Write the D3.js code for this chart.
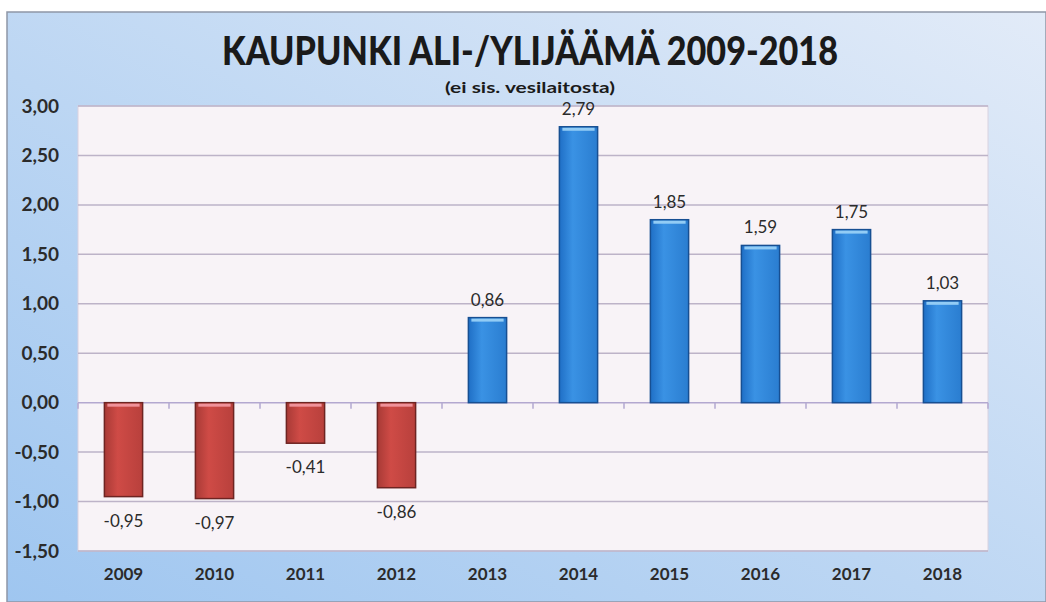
<!DOCTYPE html>
<html>
<head>
<meta charset="utf-8">
<script src="https://cdn.jsdelivr.net/npm/d3@7"></script>
<style>
  body { margin: 0; background: #ffffff; }
  text { font-family: Lato, "Open Sans", sans-serif; }
</style>
</head>
<body>
<svg id="chart" width="1046" height="602"></svg>
<script>
var years = ["2009", "2010", "2011", "2012", "2013", "2014", "2015", "2016", "2017", "2018"];
var values = [-0.95, -0.97, -0.41, -0.86, 0.86, 2.79, 1.85, 1.59, 1.75, 1.03];
var yTicks = [3.0, 2.5, 2.0, 1.5, 1.0, 0.5, 0.0, -0.5, -1.0, -1.5];

var W = 1046, H = 602;
var plot = {left: 78, right: 988, top: 106, bottom: 551};

var fi = d3.formatLocale({decimal: ",", thousands: " ", grouping: [3], currency: ["", "€"], minus: "-"});
var fmt = fi.format(".2f");

var svg = d3.select("#chart");
var defs = svg.append("defs");

// outer background gradient: saturated blue bottom-left, pale top-right
var bg = defs.append("linearGradient").attr("id", "bg")
    .attr("x1", "0").attr("y1", "1").attr("x2", "1").attr("y2", "0");
bg.append("stop").attr("offset", "0").attr("stop-color", "#9fc6f0");
bg.append("stop").attr("offset", "0.45").attr("stop-color", "#bcd6f3");
bg.append("stop").attr("offset", "1").attr("stop-color", "#e2ebf8");

var redG = defs.append("linearGradient").attr("id", "redG").attr("x1", 0).attr("x2", 1);
redG.append("stop").attr("offset", 0).attr("stop-color", "#a83a36");
redG.append("stop").attr("offset", 0.35).attr("stop-color", "#cf4b46");
redG.append("stop").attr("offset", 1).attr("stop-color", "#b8403c");

var blueG = defs.append("linearGradient").attr("id", "blueG").attr("x1", 0).attr("x2", 1);
blueG.append("stop").attr("offset", 0).attr("stop-color", "#1f6fc6");
blueG.append("stop").attr("offset", 0.35).attr("stop-color", "#3a92e4");
blueG.append("stop").attr("offset", 1).attr("stop-color", "#2a7dd0");

svg.append("rect").attr("x", 0).attr("y", 0).attr("width", W).attr("height", H).attr("fill", "#ffffff");
svg.append("rect").attr("x", 7).attr("y", 12).attr("width", W - 7).attr("height", H - 12)
    .attr("fill", "url(#bg)").attr("stroke", "#8f96a6").attr("stroke-width", 1.5);

var x = d3.scaleBand().domain(years).range([plot.left, plot.right]).paddingInner(0.58).paddingOuter(0.29);
var y = d3.scaleLinear().domain([-1.5, 3.0]).range([plot.bottom, plot.top]);

// plot area
svg.append("rect").attr("x", plot.left).attr("y", plot.top)
    .attr("width", plot.right - plot.left).attr("height", plot.bottom - plot.top)
    .attr("fill", "#f8f3f7").attr("stroke", "#d9d2e0").attr("stroke-width", 1);

// gridlines
svg.append("g").selectAll("line").data(yTicks).enter().append("line")
    .attr("x1", plot.left).attr("x2", plot.right)
    .attr("y1", function(d) { return y(d); }).attr("y2", function(d) { return y(d); })
    .attr("stroke", function(d) { return d === 0 ? "#b3a8d0" : "#bdb3c8"; })
    .attr("stroke-width", 1.5);

// y axis labels
var yAxis = d3.axisLeft(y).tickValues(yTicks).tickFormat(fmt).tickSize(0).tickPadding(19);
var ya = svg.append("g").attr("transform", "translate(" + plot.left + ",0)").call(yAxis);
ya.select(".domain").remove();
ya.selectAll("text").attr("font-size", 19).attr("font-weight", "bold").attr("fill", "#2b2b2b")
    .attr("font-family", "Lato, 'Open Sans', sans-serif");

// category ticks on zero line
var bounds = years.map(function(d) { return x(d) - x.step() * x.paddingInner() / 2; });
bounds.push(plot.right);
svg.append("g").selectAll("line").data(bounds).enter().append("line")
    .attr("x1", function(d) { return d; }).attr("x2", function(d) { return d; })
    .attr("y1", y(0)).attr("y2", y(0) + 6)
    .attr("stroke", "#b3a8d0").attr("stroke-width", 1.5);

// bars
var bars = svg.append("g").selectAll("g").data(values).enter().append("g");
bars.append("rect")
    .attr("x", function(d, i) { return x(years[i]); })
    .attr("y", function(d) { return y(Math.max(0, d)); })
    .attr("width", x.bandwidth())
    .attr("height", function(d) { return Math.abs(y(d) - y(0)); })
    .attr("fill", function(d) { return d < 0 ? "url(#redG)" : "url(#blueG)"; })
    .attr("stroke", function(d) { return d < 0 ? "#6e2422" : "#174f92"; })
    .attr("stroke-width", 1.5);
bars.append("rect")
    .attr("x", function(d, i) { return x(years[i]) + 3; })
    .attr("y", function(d) { return y(Math.max(0, d)) + 1; })
    .attr("width", x.bandwidth() - 6)
    .attr("height", 3)
    .attr("fill", function(d) { return d < 0 ? "#f0929a" : "#92ccf5"; });

// value labels
svg.append("g").selectAll("text").data(values).enter().append("text")
    .attr("x", function(d, i) { return x(years[i]) + x.bandwidth() / 2; })
    .attr("y", function(d) { return d < 0 ? y(d) + 30 : y(d) - 12; })
    .attr("text-anchor", "middle")
    .attr("font-size", 17).attr("fill", "#2b2b2b")
    .text(function(d) { return fmt(d); });

// x labels
var xAxis = d3.axisBottom(x).tickSize(0).tickPadding(0);
var xa = svg.append("g").attr("transform", "translate(0," + (plot.bottom + 29) + ")").call(xAxis);
xa.select(".domain").remove();
xa.selectAll("text").attr("font-size", 17).attr("font-weight", "bold").attr("fill", "#2b2b2b")
    .attr("font-family", "Lato, 'Open Sans', sans-serif").attr("dy", "0");

// titles
svg.append("text").attr("x", 530).attr("y", 65).attr("text-anchor", "middle")
    .attr("font-size", 39).attr("font-weight", "900").attr("fill", "#1a1a1a")
    .attr("textLength", 616).attr("lengthAdjust", "spacingAndGlyphs")
    .text("KAUPUNKI ALI-/YLIJÄÄMÄ 2009-2018");
svg.append("text").attr("x", 530).attr("y", 93).attr("text-anchor", "middle")
    .attr("font-size", 16).attr("font-weight", "bold").attr("fill", "#1a1a1a")
    .attr("textLength", 170).attr("lengthAdjust", "spacingAndGlyphs")
    .text("(ei sis. vesilaitosta)");
</script>
</body>
</html>
